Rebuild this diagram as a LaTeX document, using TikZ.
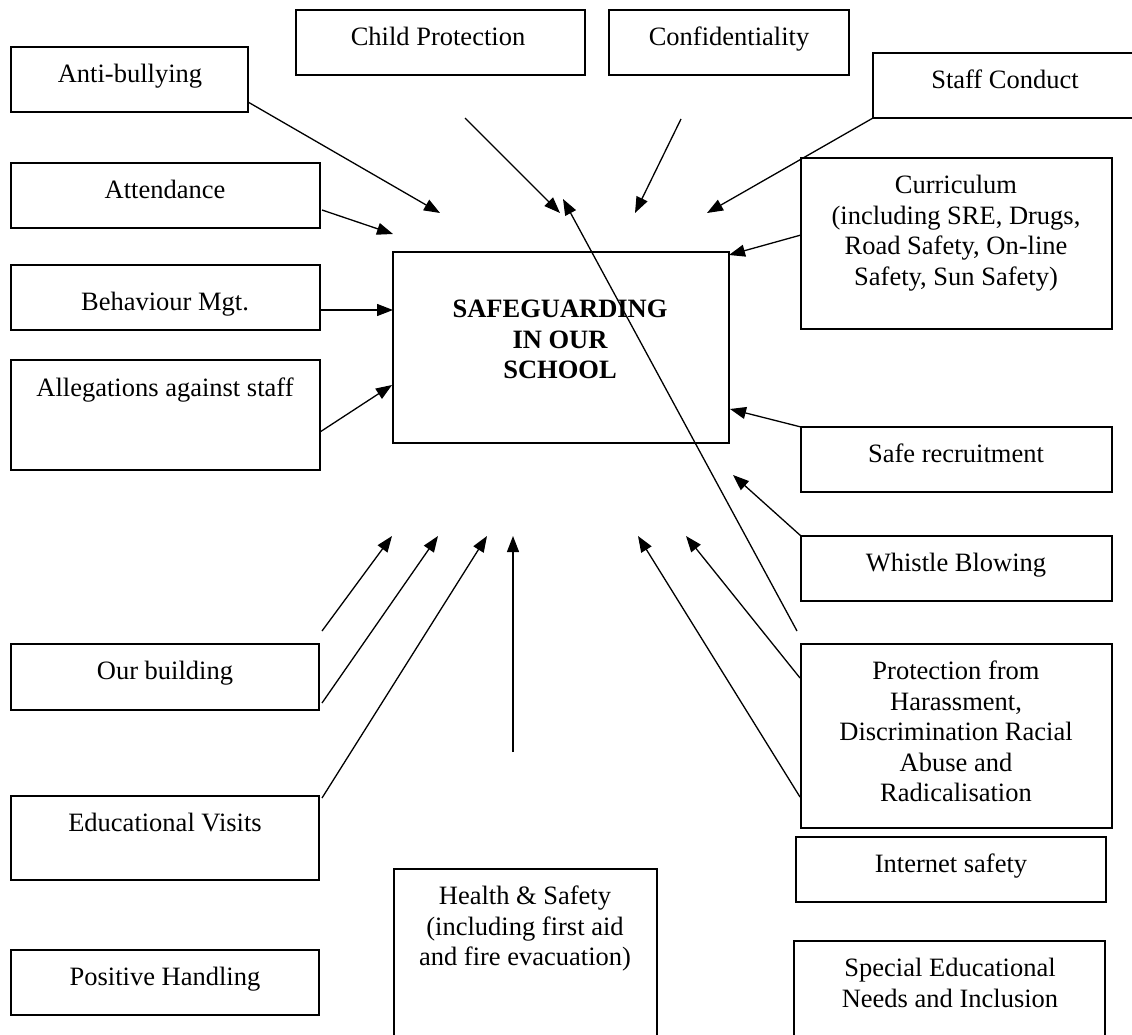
\documentclass[tikz,border=0pt]{standalone}
\usepackage{fontspec}
\setmainfont{Liberation Serif}
\usetikzlibrary{arrows.meta,calc}
\newcommand\mkbox[5]{%
  \node[bx, minimum width={(#4-#2)*1pt}, minimum height={(#5-#3)*1pt}] (#1) at ({(#2+#4)/2},{(#3+#5)/2}) {};}
\begin{document}
\begin{tikzpicture}[x=1pt,y=-1pt,
  bx/.style={draw=black, line width=1.6pt, inner sep=0pt, outer sep=0pt},
  tx/.style={anchor=north, inner sep=0pt, align=center, font=\fontsize{26.5}{30.5}\selectfont},
  arr/.style={-{Triangle[length=16pt,width=12pt]}, line width=1.3pt}]
\useasboundingbox (0,0) rectangle (1132,1035);
\clip (0,0) rectangle (1132,1035);
% boxes
\mkbox{anti}{11}{47}{248}{112}
\mkbox{cp}{296}{10}{585}{75}
\mkbox{conf}{609}{10}{849}{75}
\mkbox{staff}{873}{53}{1137}{118}
\mkbox{att}{11}{163}{320}{228}
\mkbox{beh}{11}{265}{320}{330}
\mkbox{alleg}{11}{360}{320}{470}
\mkbox{safe}{393}{252}{729}{443}
\mkbox{curr}{801}{158}{1112}{329}
\mkbox{saferec}{801}{427}{1112}{492}
\mkbox{whistle}{801}{536}{1112}{601}
\mkbox{ourb}{11}{644}{319}{710}
\mkbox{prot}{801}{644}{1112}{828}
\mkbox{edu}{11}{796}{319}{880}
\mkbox{inet}{796}{837}{1106}{902}
\mkbox{health}{394}{869}{657}{1045}
\mkbox{pos}{11}{950}{319}{1015}
\mkbox{sen}{794}{941}{1105}{1045}
% texts
\node[tx] (anti-t) at (130,64) {Anti-bullying};
\node[tx] (cp-t) at (438,27) {Child Protection};
\node[tx] (conf-t) at (729,27) {Confidentiality};
\node[tx] (staff-t) at (1005,70) {Staff Conduct};
\node[tx] (att-t) at (165,180) {Attendance};
\node[tx] (beh-t) at (165,292) {Behaviour Mgt.};
\node[tx] (alleg-t) at (165,378) {Allegations against staff};
\node[tx, font=\bfseries\fontsize{26.5}{30.5}\selectfont] (safe-t) at (560,300) {SAFEGUARDING\\IN OUR\\SCHOOL};
\node[tx] (curr-t) at (956,175) {Curriculum\\(including SRE, Drugs,\\Road Safety, On-line\\Safety, Sun Safety)};
\node[tx] (saferec-t) at (956,444) {Safe recruitment};
\node[tx] (whistle-t) at (956,553) {Whistle Blowing};
\node[tx] (ourb-t) at (165,661) {Our building};
\node[tx] (prot-t) at (956,661) {Protection from\\Harassment,\\Discrimination Racial\\Abuse and\\Radicalisation};
\node[tx] (edu-t) at (165,813) {Educational Visits};
\node[tx] (inet-t) at (951,854) {Internet safety};
\node[tx] (health-t) at (525,886) {Health \& Safety\\(including first aid\\and fire evacuation)};
\node[tx] (pos-t) at (165,967) {Positive Handling};
\node[tx] (sen-t) at (950,958) {Special Educational\\Needs and Inclusion};
% free arrow ends
\coordinate (a1) at (440,213);
\coordinate (cp1) at (465,118); \coordinate (cp2) at (560,213);
\coordinate (cf1) at (681,119); \coordinate (cf2) at (635,213);
\coordinate (st2) at (707,213);
\coordinate (lg1) at (797,631); \coordinate (lg2) at (563,199);
\coordinate (at1) at (322,210); \coordinate (at2) at (393,234);
\coordinate (al1) at (320,432); \coordinate (al2) at (392,385);
\coordinate (cu1) at (801,235); \coordinate (cu2) at (729,255);
\coordinate (sr2) at (730,409);
\coordinate (wb2) at (733,475);
\coordinate (p1a) at (800,678); \coordinate (p1b) at (686,536);
\coordinate (p2a) at (800,797); \coordinate (p2b) at (638,536);
\coordinate (ob1a) at (322,631); \coordinate (ob1b) at (392,536);
\coordinate (ob2a) at (322,703); \coordinate (ob2b) at (438,536);
\coordinate (ed1) at (322,798); \coordinate (ed2) at (487,536);
\coordinate (hs1) at (513,752); \coordinate (hs2) at (513,536);
% arrows
\draw[arr] (anti.east |- 0,102) -- (a1);
\draw[arr] (cp1) -- (cp2);
\draw[arr] (cf1) -- (cf2);
\draw[arr] (staff.south west) -- (st2);
\draw[arr] (lg1) -- (lg2);
\draw[arr] (at1) -- (at2);
\draw[arr] (beh.east |- 0,310) -- (safe.west |- 0,310);
\draw[arr] (al1) -- (al2);
\draw[arr] (cu1) -- (cu2);
\draw[arr] (saferec.north west) -- (sr2);
\draw[arr] (whistle.north west) -- (wb2);
\draw[arr] (p1a) -- (p1b);
\draw[arr] (p2a) -- (p2b);
\draw[arr] (ob1a) -- (ob1b);
\draw[arr] (ob2a) -- (ob2b);
\draw[arr] (ed1) -- (ed2);
\draw[arr] (hs1) -- (hs2);
\end{tikzpicture}
\end{document}
